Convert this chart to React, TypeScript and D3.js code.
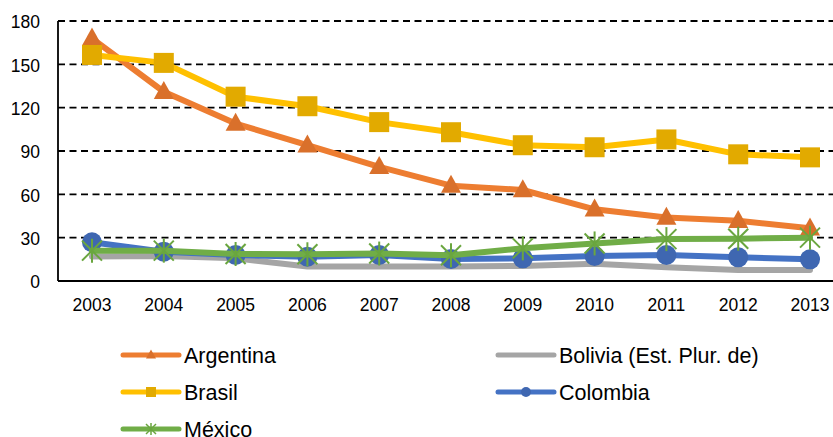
import React from "react";
import * as d3 from "d3";

const years = ["2003","2004","2005","2006","2007","2008","2009","2010","2011","2012","2013"];
const yTicks = [0, 30, 60, 90, 120, 150, 180];

const argentina = [168, 131, 109, 94, 79, 66, 63, 49.6, 44, 41.7, 36.5];
const bolivia = [17, 17.3, 15.7, 10, 10, 10, 10.4, 12, 9.5, 7.6, 7.6];
const brasil = [156.5, 151, 127.6, 121, 110, 103, 94, 92.6, 98, 87.7, 85.6];
const colombia = [26.8, 20.3, 18, 16.8, 18, 15.2, 15.7, 17.3, 18, 16.4, 15];
const mexico = [21, 21, 18.7, 18.5, 19, 17.8, 22.6, 26, 29, 29.3, 30];

type Series = { name: string; values: number[]; line: string; fill: string; marker: string };
const series: Series[] = [
  { name: "Argentina", values: argentina, line: "#ED7D31", fill: "#D9702B", marker: "triangle" },
  { name: "Bolivia (Est. Plur. de)", values: bolivia, line: "#A5A5A5", fill: "#A5A5A5", marker: "none" },
  { name: "Brasil", values: brasil, line: "#FFC000", fill: "#E2AA00", marker: "square" },
  { name: "Colombia", values: colombia, line: "#4472C4", fill: "#3F67B1", marker: "circle" },
  { name: "México", values: mexico, line: "#70AD47", fill: "#6AA63F", marker: "star" },
];

const FONT = "'Liberation Sans', Arial, sans-serif";

function Marker({ type, x, y, s, fill }: { type: string; x: number; y: number; s: number; fill: string }) {
  if (type === "triangle") {
    const h = s * 0.9;
    return <path d={`M${x},${y - h * 0.6}L${x + s / 2},${y + h * 0.4}L${x - s / 2},${y + h * 0.4}Z`} fill={fill} />;
  }
  if (type === "square") {
    return <rect x={x - s / 2} y={y - s / 2} width={s} height={s} fill={fill} />;
  }
  if (type === "circle") {
    return <circle cx={x} cy={y} r={s / 2} fill={fill} />;
  }
  if (type === "star") {
    const r = s / 2;
    return (
      <g stroke={fill} strokeWidth={s > 12 ? 2 : 1.5}>
        <line x1={x - r} y1={y - r} x2={x + r} y2={y + r} />
        <line x1={x - r} y1={y + r} x2={x + r} y2={y - r} />
        <line x1={x} y1={y - r * 1.2} x2={x} y2={y + r * 1.2} />
      </g>
    );
  }
  return null;
}

export default function App() {
  const left = 58;
  const right = 845;
  const x = d3.scalePoint<string>().domain(years).range([92, 810]);
  const y = d3.scaleLinear().domain([0, 180]).range([281, 21]);
  const line = d3
    .line<number>()
    .x((_, i) => x(years[i]) as number)
    .y((d) => y(d));

  const legendPos = [
    { lx: 123, ly: 355 },
    { lx: 498, ly: 355 },
    { lx: 123, ly: 392 },
    { lx: 498, ly: 392 },
    { lx: 123, ly: 429 },
  ];

  return (
    <svg width={833} height={437} style={{ position: "absolute", left: 0, top: 0, background: "#fff" }} fontFamily={FONT}>
      {yTicks.filter((t) => t > 0).map((t) => (
        <line key={t} x1={left} x2={right} y1={y(t)} y2={y(t)} stroke="#000" strokeWidth={1.8} strokeDasharray="7,4.5" />
      ))}
      <line x1={left} x2={left} y1={y(180)} y2={y(0)} stroke="#000" strokeWidth={1.8} />
      <line x1={left} x2={right} y1={y(0)} y2={y(0)} stroke="#000" strokeWidth={1.8} />
      {yTicks.map((t) => (
        <text key={t} x={40} y={y(t)} dy="0.42em" textAnchor="end" fontSize={17.5} fill="#000">{t}</text>
      ))}
      {years.map((yr) => (
        <text key={yr} x={x(yr)} y={305} dy="0.36em" textAnchor="middle" fontSize={17.5} fill="#000">{yr}</text>
      ))}
      {series.map((s) => (
        <g key={s.name}>
          <path d={line(s.values) || ""} fill="none" stroke={s.line} strokeWidth={6} strokeLinejoin="round" strokeLinecap="round" />
          {s.values.map((v, i) => (
            <Marker key={i} type={s.marker} x={x(years[i]) as number} y={y(v)} s={s.marker === "triangle" ? 20 : 20} fill={s.fill} />
          ))}
        </g>
      ))}
      {series.map((s, i) => {
        const p = legendPos[i];
        return (
          <g key={s.name}>
            <line x1={p.lx} x2={p.lx + 56} y1={p.ly} y2={p.ly} stroke={s.line} strokeWidth={5} strokeLinecap="round" />
            <Marker type={s.marker} x={p.lx + 28} y={p.ly} s={10} fill={s.fill} />
            <text x={p.lx + 61} y={p.ly} dy="0.36em" fontSize={21.5} fill="#000">{s.name}</text>
          </g>
        );
      })}
    </svg>
  );
}
